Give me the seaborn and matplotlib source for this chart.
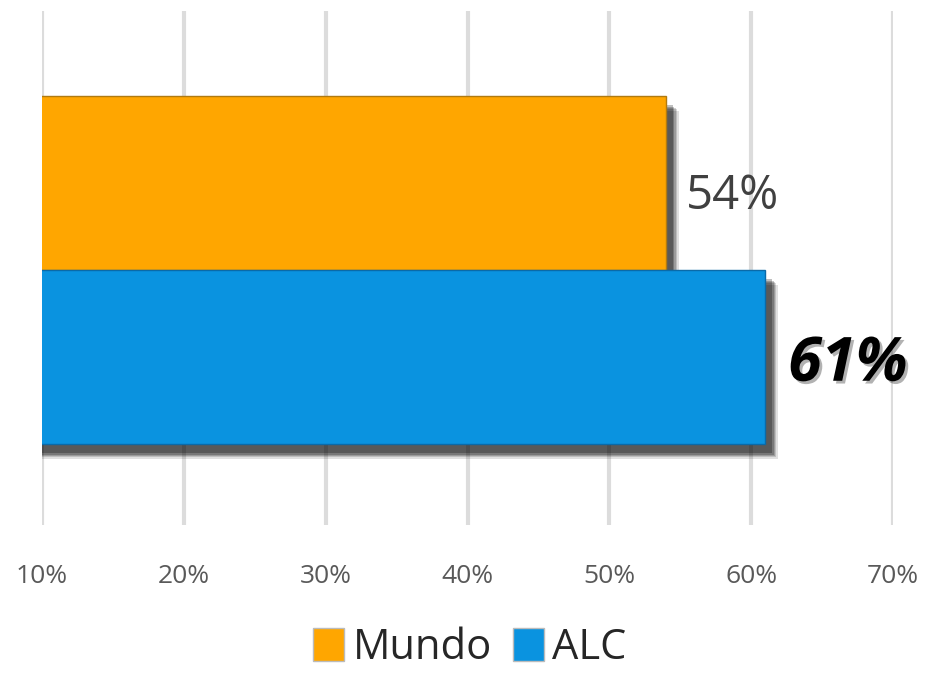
import matplotlib
matplotlib.use("Agg")
import matplotlib.pyplot as plt
import matplotlib.patheffects as pe
from matplotlib.patches import Patch
import seaborn as sns
import pandas as pd

categories = ["Mundo", "ALC"]
values = [54, 61]
colors = ["#FFA600", "#0A93E0"]
edge_colors = ["#B07A10", "#0A6AA8"]
tick_values = [10, 20, 30, 40, 50, 60, 70]
tick_labels = ["10%", "20%", "30%", "40%", "50%", "60%", "70%"]
value_labels = ["54%", "61%"]

sns.set_theme(style="white")
plt.rcParams['font.family'] = ['Open Sans', 'DejaVu Sans']

df = pd.DataFrame({"cat": categories, "val": values})

fig = plt.figure(figsize=(9.25, 6.73), dpi=100)
ax = fig.add_axes([42/925, 1-525/673, (893-42)/925, (525-11)/673])

sns.barplot(data=df, x="val", y="cat", hue="cat", palette=dict(zip(categories, colors)),
            orient="h", width=1.0, legend=False, ax=ax, zorder=3, saturation=1)

shadow_fx = []
for off, a in [((9, -11), 0.12), ((8, -10), 0.15), ((7, -9), 0.18), ((6, -8), 0.22), ((5, -7), 0.25)]:
    shadow_fx.append(pe.SimplePatchShadow(offset=off, shadow_rgbFace="black", alpha=a))

for patch, ec in zip(ax.patches, edge_colors):
    patch.set_edgecolor(ec)
    patch.set_linewidth(1.0)
    patch.set_path_effects(shadow_fx + [pe.Normal()])

ax.set_xlim(10, 70)
ax.set_ylim(1.968, -0.986)
ax.set_xticks(tick_values)
ax.set_xticklabels(tick_labels, fontsize=19, color="#595959")
ax.tick_params(axis="x", pad=28, length=0)
ax.set_yticks([])
ax.set_xlabel("")
ax.set_ylabel("")
ax.xaxis.grid(True, color="#DCDCDC", linewidth=3, zorder=0)
ax.set_axisbelow(True)
for s in ax.spines.values():
    s.set_visible(False)

# value labels
ax.text(values[0] + 1.4, 0.08, value_labels[0], fontsize=34, color="#404040",
        va="center", ha="left")
ax.text(values[1] + 1.6, 1.05, value_labels[1], fontsize=44, color="black",
        fontweight="bold", fontstyle="italic", va="center", ha="left",
        path_effects=[pe.SimplePatchShadow(offset=(2, -2), alpha=0.3), pe.Normal()])

handles = [Patch(facecolor=c, edgecolor="#BBBBBB") for c in colors]
fig.legend(handles, categories, loc="center", bbox_to_anchor=(470/925, 1-648/673),
           ncol=2, frameon=False, fontsize=30, handlelength=0.75, handleheight=0.85,
           handletextpad=0.2, columnspacing=0.5, borderpad=0.1)

fig.savefig("out.png", dpi=100, facecolor="white")
